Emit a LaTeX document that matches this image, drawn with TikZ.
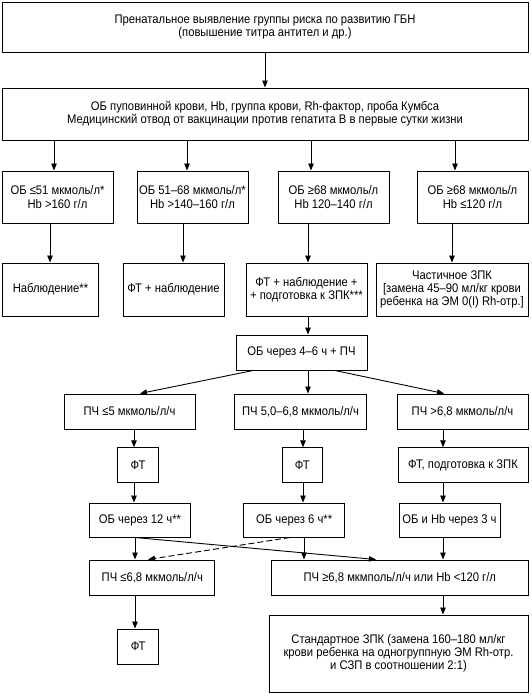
\documentclass[tikz,border=0pt]{standalone}
\usepackage{fontspec}
\setmainfont{Liberation Sans}[FakeStretch=0.9]
\usetikzlibrary{arrows.meta}

\tikzset{
  box/.style={draw, line width=1pt, align=center, inner sep=0pt,
    font=\fontsize{12.5}{13.2}\selectfont},
  sz/.style 2 args={minimum width=#1pt, minimum height=#2pt},
  arr/.style={-{Triangle[length=7pt, width=5.5pt]}, line width=0.9pt},
}

\begin{document}
\begin{tikzpicture}[x=1pt, y=-1pt]
  \useasboundingbox (0,0) rectangle (531,696);

  % верх
  \node[box, sz={526}{50}] (top) at (265,27)
    {Пренатальное выявление группы риска по развитию ГБН\\(повышение титра антител и др.)};
  \node[box, sz={526}{52}] (ob) at (265,114)
    {ОБ пуповинной крови, Hb, группа крови, Rh-фактор, проба Кумбса\\Медицинский отвод от вакцинации против гепатита В в первые сутки жизни};
  \draw[arr] (top) -- (ob);

  % четыре группы
  \node[box, sz={111}{52}] (n1) at (57.5,197)  {ОБ ≤51 мкмоль/л*\\Hb >160 г/л};
  \node[box, sz={111}{52}] (n2) at (192.5,197) {ОБ 51–68 мкмоль/л*\\Hb >140–160 г/л};
  \node[box, sz={111}{52}] (n3) at (333.5,197) {ОБ ≥68 мкмоль/л\\Hb 120–140 г/л};
  \node[box, sz={111}{52}] (n4) at (472.5,197) {ОБ ≥68 мкмоль/л\\Hb ≤120 г/л};

  \node[box, sz={96}{53}]  (t1) at (50.5,289.5) {Наблюдение**};
  \node[box, sz={101}{53}] (t2) at (173.5,289.5) {ФТ + наблюдение};
  \node[box, sz={121}{53}] (t3) at (306.5,289.5) {ФТ + наблюдение +\\+ подготовка к ЗПК***};
  \node[box, sz={152}{53}] (t4) at (452,289.5)
    {Частичное ЗПК\\{}[замена 45–90 мл/кг крови\\ребенка на ЭМ 0(I) Rh-отр.]};

  \foreach \n/\x in {n1/54, n2/187, n3/311, n4/455}
    \draw[arr] (ob.south -| \x,0) -- (\n.north -| \x,0);
  \foreach \a/\b/\x in {n1/t1/50, n2/t2/183, n3/t3/308, n4/t4/452}
    \draw[arr] (\a.south -| \x,0) -- (\b.north -| \x,0);

  % повторный анализ
  \node[box, sz={131}{35}] (re) at (301.5,352.5) {ОБ через 4–6 ч + ПЧ};
  \draw[arr] (t3.south -| 308,0) -- (re.north -| 308,0);

  \node[box, sz={131}{35}] (p1) at (129.5,411.5) {ПЧ ≤5 мкмоль/л/ч};
  \node[box, sz={132}{35}] (p2) at (300.5,411.5) {ПЧ 5,0–6,8 мкмоль/л/ч};
  \node[box, sz={131}{35}] (p3) at (462.5,411.5) {ПЧ >6,8 мкмоль/л/ч};
  \draw[arr] (re.south -| 253,0) -- (p1.north -| 140,0);
  \draw[arr] (re.south -| 308,0) -- (p2.north -| 308,0);
  \draw[arr] (re.south -| 335,0) -- (p3.north -| 444,0);

  \node[box, sz={40.5}{34.5}] (f1) at (138,465)   {ФТ};
  \node[box, sz={40.5}{34.5}] (f2) at (302.3,465) {ФТ};
  \node[box, sz={130}{34.5}]  (f3) at (463,465)   {ФТ, подготовка к ЗПК};

  \node[box, sz={100.6}{34}] (o1) at (140,520)   {ОБ через 12 ч**};
  \node[box, sz={101}{34}]   (o2) at (294.2,520) {ОБ через 6 ч**};
  \node[box, sz={101}{34}]   (o3) at (449.5,520) {ОБ и Hb через 3 ч};

  \foreach \a/\b/\c/\x in {p1/f1/o1/134, p2/f2/o2/303, p3/f3/o3/443} {
    \draw[arr] (\a.south -| \x,0) -- (\b.north -| \x,0);
    \draw[arr] (\b.south -| \x,0) -- (\c.north -| \x,0);
  }

  % итог
  \node[box, sz={125.3}{35}] (q1) at (152.3,577.5) {ПЧ ≤6,8 мкмоль/л/ч};
  \node[box, sz={256.4}{35}] (q2) at (399.8,577.5) {ПЧ ≥6,8 мкмполь/л/ч или Hb <120 г/л};
  \draw[arr] (o1.south -| 135,0) -- (q1.north -| 135,0);
  \draw[arr] (o2.south -| 304,0) -- (q2.north -| 304,0);
  \draw[arr] (o3.south -| 443,0) -- (q2.north -| 443,0);
  \draw[arr] (o1.south -| 135,0) -- (q2.north -| 376,0);
  \draw[arr, dashed, dash pattern=on 6pt off 3pt] (o2.south -| 290,0) -- (q1.north -| 148,0);

  \node[box, sz={40.5}{35}] (fe) at (138.2,646.5) {ФТ};
  \node[box, sz={259}{77}] (std) at (398.5,653.5)
    {Стандартное ЗПК (замена 160–180 мл/кг\\крови ребенка на одногруппную ЭМ Rh-отр.\\и СЗП в соотношении 2:1)};
  \draw[arr] (q1.south -| 135,0) -- (fe.north -| 135,0);
  \draw[arr] (q2.south -| 443,0) -- (std.north -| 443,0);
\end{tikzpicture}
\end{document}
